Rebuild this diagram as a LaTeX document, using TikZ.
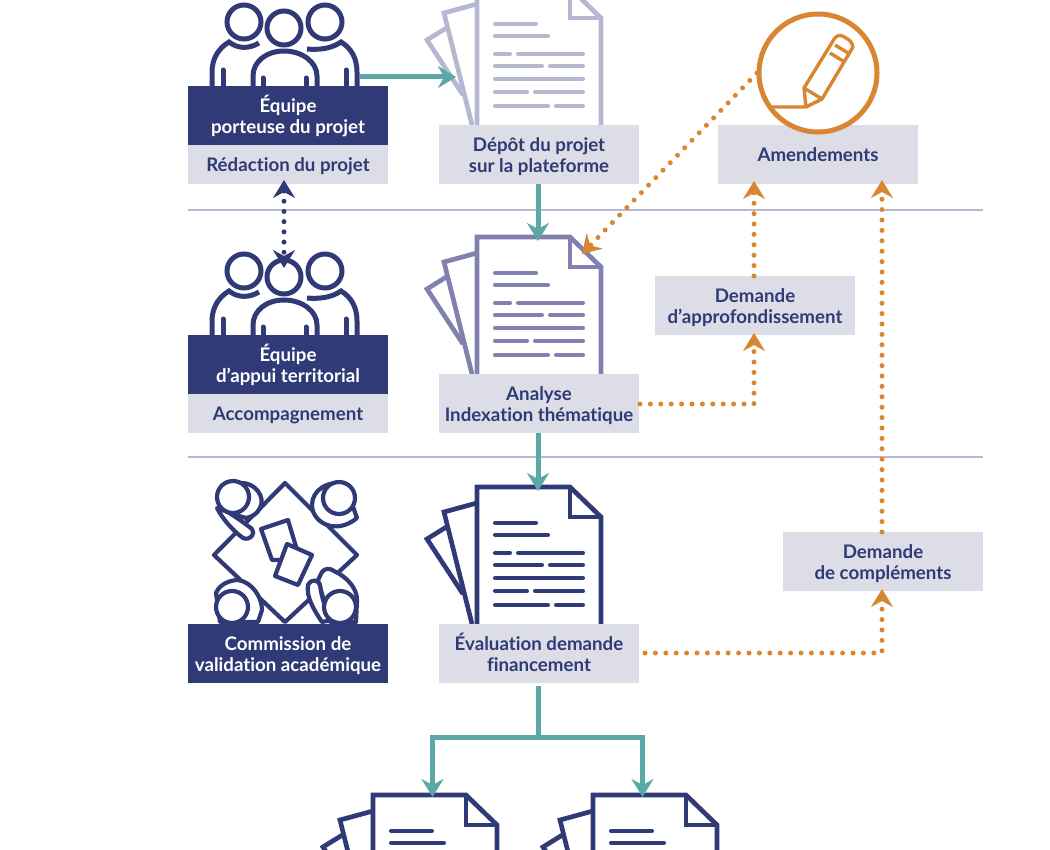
\documentclass[tikz,border=0pt]{standalone}
\usepackage{fontspec}
\setmainfont{Lato}[Ligatures=NoCommon]
\usetikzlibrary{arrows.meta}
\definecolor{navy}{HTML}{2F3A76}
\definecolor{doclight}{HTML}{B6B7D0}
\definecolor{docmid}{HTML}{8081AE}
\definecolor{tealarrow}{HTML}{5BA8A6}
\definecolor{orangeline}{HTML}{D98633}
\definecolor{boxgrey}{HTML}{DCDDE6}
\newcommand{\toprow}{\rule{0pt}{20.7pt}}
\tikzset{
  basebox/.style={minimum width=200pt,inner sep=0pt,align=center,font=\fontsize{18.7}{21}\selectfont\bfseries},
  darkbox/.style={basebox,fill=navy,text=white},
  greybox/.style={basebox,fill=boxgrey,text=navy},
  sepline/.style={doclight,line width=1.6pt},
  tealline/.style={tealarrow,line width=5pt,-{Stealth[length=18pt,width=22pt,inset=6pt]}},
  orangedots/.style={orangeline,line width=5pt,line cap=round,dash pattern=on 0pt off 10.4pt,-{Stealth[length=18pt,width=22pt,inset=6pt]}},
  navydots/.style={navy,line width=5pt,line cap=round,dash pattern=on 0pt off 10.2pt,{Stealth[length=18pt,width=22pt,inset=6pt]}-{Stealth[length=18pt,width=22pt,inset=6pt]}},
  pics/docicon/.style={code={
    \draw[#1,line width=4.7pt] (0,137) -- (0,0) -- (93,0) -- (124,30) -- (124,137);
    \draw[#1,line width=4.7pt] (93,0) -- (93,30) -- (124,30);
    \draw[#1,line width=4.7pt] (0,16) -- (-33,25) -- (-5,137);
    \draw[#1,line width=4.7pt] (-29,39) -- (-50,52) -- (-14,107);
    \foreach \xa/\xb/\yy in {16/61/36,16/73/48,16/35/66,39/108/66,16/67/78,71/108/78,16/108/91,16/52/104,56/108/104,16/73/118,77/108/118}
      \draw[#1,line width=4.7pt,line cap=round,shorten <=2.3pt,shorten >=2.3pt] (\xa,\yy) -- (\xb,\yy);
  }},
  pics/peopleicon/.style={code={
    \begin{scope}[navy,line width=5pt]
      \draw (244,22) circle (17);
      \draw (325,22) circle (17);
      \draw (284,28) circle (17);
      \draw (212,86) -- (212,72) .. controls (212,58) and (219,48) .. (229,42) .. controls (238,49) and (249,49) .. (259,43);
      \draw (253,86) -- (253,76) .. controls (253,62) and (266,51) .. (284,51) .. controls (302,51) and (317,62) .. (317,76) -- (317,86);
      \draw (307,49) .. controls (318,50) and (331,49) .. (341,42) .. controls (351,48) and (357,58) .. (357,72) -- (357,86);
      \draw[line cap=round] (223,70) -- (223,86);
      \draw[line cap=round] (263,78) -- (263,86);
      \draw[line cap=round] (306,78) -- (306,86);
      \draw[line cap=round] (346,70) -- (346,86);
    \end{scope}
  }},
}
\begin{document}
\begin{tikzpicture}[x=1pt,y=-1pt]
  \useasboundingbox (0,0) rectangle (1050,850);
  \clip (0,0) rectangle (1050,850);

  % Separators
  \draw[sepline] (188,210) -- (983,210);
  \draw[sepline] (188,457) -- (983,457);

  % People icons
  \pic at (0,0) {peopleicon};
  \pic at (0,249) {peopleicon};

  % Commission icon
  \begin{scope}[navy,line width=4.2pt,line join=round,line cap=round]
    \draw (285,483) -- (357,555) -- (285,622) -- (214,555) -- cycle;
    \draw[fill=white] (261,529) -- (288,520) -- (300,560) -- (272,560) -- cycle;
    \draw[fill=white] (287,544) -- (312,555) -- (298,585) -- (275,576) -- cycle;
    % top left
    \draw[fill=white] (240,483) .. controls (255,482) and (266,497) .. (260,508) .. controls (257,514) and (252,517) .. (246,518) -- (225,512) -- cycle;
    \draw[fill=white] (217,508) .. controls (222,518) and (232,530) .. (243,538) .. controls (250,541) and (256,534) .. (252,529) -- (240,520) -- (228,512) -- cycle;
    \draw[fill=white] (233,497) circle (16);
    % top right
    \draw[fill=white] (345,484) .. controls (328,480) and (312,490) .. (312,505) .. controls (312,522) and (335,536) .. (357,518) -- (345,484);
    \draw[fill=white] (339,498) circle (16);
    % bottom left
    \draw[fill=white] (216,593) .. controls (220,583) and (232,580) .. (238,580) .. controls (252,582) and (262,597) .. (262,610) -- (258,622) -- (220,622) -- cycle;
    \draw[fill=white] (232,607) circle (16);
    % bottom right
    \draw[fill=white] (322,572) .. controls (325,568) and (330,568) .. (334,571) .. controls (347,577) and (357,588) .. (357,600) -- (356,622) -- (330,622) -- (318,580) -- cycle;
    \draw[fill=white] (308,585) .. controls (312,578) and (318,580) .. (320,585) .. controls (322,600) and (326,610) .. (332,620) -- (322,622) .. controls (314,610) and (306,597) .. (308,585);
    \draw[fill=white] (340,607) circle (16);
  \end{scope}

  % Documents
  \pic at (477,-12) {docicon={doclight}};
  \pic at (477,237) {docicon={docmid}};
  \pic at (477,487) {docicon={navy}};
  \pic at (373,795) {docicon={navy}};
  \pic at (593,795) {docicon={navy}};

  % Left column
  \node[darkbox,minimum height=59pt] (porteuse) at (288,115.5) {\toprow Équipe\\\strut porteuse du projet};
  \node[greybox,minimum height=39pt] (redaction) at (288,164.5) {\toprow\strut Rédaction du projet};
  \node[darkbox,minimum height=59pt] (appui) at (288,364.5) {\toprow Équipe\\\strut d’appui territorial};
  \node[greybox,minimum height=39pt] (accomp) at (288,413.5) {\toprow\strut Accompagnement};
  \node[darkbox,minimum height=59pt] (commission) at (288,653.5) {\toprow Commission de\\\strut validation académique};

  % Centre column
  \node[greybox,minimum height=59pt] (depot) at (539,154.5) {\toprow Dépôt du projet\\\strut sur la plateforme};
  \node[greybox,minimum height=59pt] (analyse) at (539,403.5) {\toprow Analyse\\\strut Indexation thématique};
  \node[greybox,minimum height=59pt] (evaluation) at (539,653.5) {\toprow Évaluation demande\\\strut financement};

  % Right column
  \node[greybox,minimum height=59pt] (amend) at (818,154.5) {\toprow\strut Amendements};
  \node[greybox,minimum height=59pt] (appro) at (755,305.5) {\toprow Demande\\\strut d’approfondissement};
  \node[greybox,minimum height=59pt] (complement) at (883,561.5) {\toprow Demande\\\strut de compléments};

  % Pencil
  \node[circle,draw=orangeline,fill=white,line width=5pt,minimum size=118pt,inner sep=0pt] (pencil) at (818,73) {};
  \begin{scope}[orangeline,line width=3.4pt,line join=round]
    \draw (772,107) -- (806,107) -- (822,99) -- (853,47) [rounded corners=3pt] -- (851,41) -- (841,35) -- (836,36) [sharp corners] -- (804,88) -- (806,107);
    \draw (804,88) -- (822,99);
    \draw (835,45) -- (848,53);
    \draw (830,53) -- (843,61);
  \end{scope}

  % Anchors for the arrow ends
  \coordinate (peoplegap) at (360,77);
  \coordinate (depotsheet) at (456,77);
  \coordinate (analysetop) at (538,241);
  \coordinate (evaltop) at (538,491);
  \coordinate (evalout) at (538,686);
  \coordinate (split) at (538,737);
  \coordinate (leftdoc) at (432.5,797);
  \coordinate (rightdoc) at (642.5,797);
  \coordinate (peopletop) at (284,268);
  \coordinate (redactlow) at (284,180);
  \coordinate (analysefold) at (582,254);
  \coordinate (pencilleft) at (757,73);
  \coordinate (amendleft) at (754,181);
  \coordinate (amendright) at (882,180);
  \coordinate (approlow) at (754,333);
  \coordinate (complow) at (882,589);
  \coordinate (analyseout) at (640,404);
  \coordinate (evalright) at (645,653);
  \coordinate (appromid) at (754,276);
  \coordinate (compmid) at (882,532);
  \coordinate (analyseboxlow) at (538,433);
  \coordinate (depotboxlow) at (538,184);

  % Teal arrows
  \draw[tealline] (peoplegap) -- (depotsheet);
  \draw[tealline] (depotboxlow) -- (analysetop);
  \draw[tealline] (analyseboxlow) -- (evaltop);
  \draw[tealarrow,line width=5pt] (evalout) -- (split);
  \draw[tealline] (split) -| (leftdoc);
  \draw[tealline] (split) -| (rightdoc);

  % Dotted arrows
  \draw[navydots] (redactlow) -- (peopletop);
  \draw[orangedots] (pencilleft) -- (analysefold);
  \draw[orangedots] (analyseout) -| (approlow);
  \draw[orangedots] (appromid) -- (amendleft);
  \draw[orangedots] (evalright) -| (complow);
  \draw[orangedots] (compmid) -- (amendright);
\end{tikzpicture}
\end{document}
